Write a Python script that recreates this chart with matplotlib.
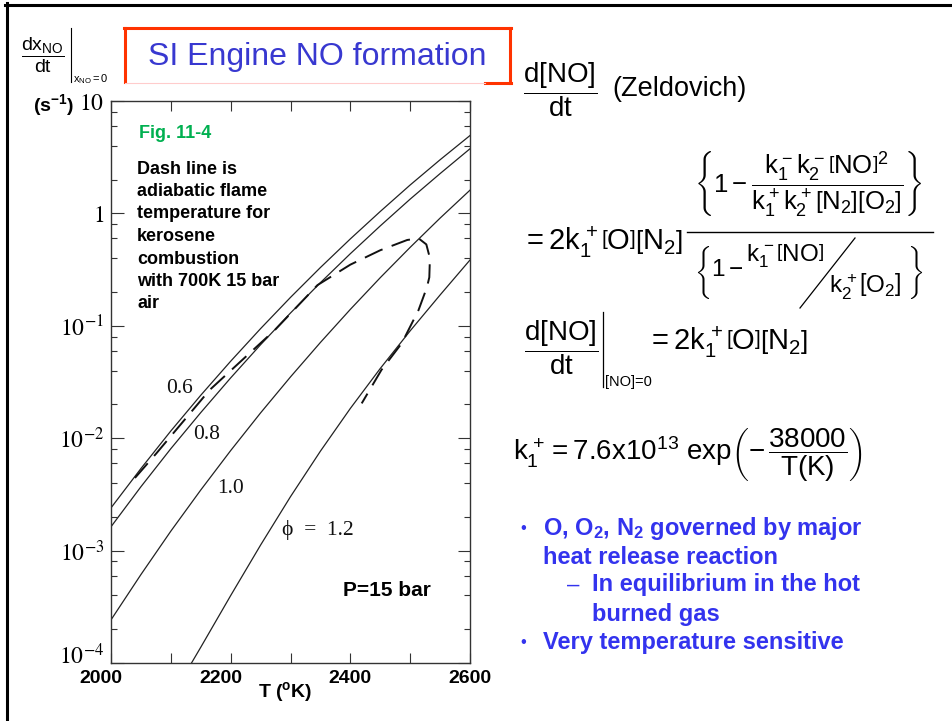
import matplotlib
matplotlib.use('Agg')
import matplotlib.pyplot as plt
import matplotlib.transforms as mtransforms
from matplotlib.lines import Line2D
from matplotlib.ticker import LogLocator, NullFormatter, FixedLocator

plt.rcParams['font.family'] = ['Liberation Sans', 'DejaVu Sans']
plt.rcParams['mathtext.fontset'] = 'custom'
plt.rcParams['mathtext.rm'] = 'Liberation Sans'
plt.rcParams['mathtext.it'] = 'Liberation Sans'
plt.rcParams['mathtext.bf'] = 'Liberation Sans:bold'

W, H = 953, 721

# Initial NO formation rate (1/s) vs burned gas temperature, P = 15 bar (read off Fig. 11-4)
temps = [2000, 2050, 2100, 2150, 2200, 2250, 2300, 2350, 2400, 2450, 2500, 2550, 2600]
rate_06 = [2.40e-3, 5.37e-3, 1.16e-2, 2.41e-2, 4.84e-2, 9.44e-2, 0.179, 0.330, 0.593, 1.04, 1.79, 3.00, 4.93]
rate_08 = [1.63e-3, 3.70e-3, 8.07e-3, 1.69e-2, 3.44e-2, 6.79e-2, 0.130, 0.242, 0.438, 0.774, 1.34, 2.26, 3.76]
rate_10 = [2.42e-4, 6.12e-4, 1.49e-3, 3.46e-3, 7.76e-3, 1.68e-2, 3.51e-2, 7.11e-2, 0.140, 0.268, 0.499, 0.908, 1.61]
temps_12 = [2130, 2150, 2200, 2250, 2300, 2350, 2400, 2450, 2500, 2550, 2600]
rate_12 = [9.1e-5, 1.38e-4, 3.98e-4, 1.12e-3, 3.02e-3, 7.67e-3, 1.84e-2, 4.17e-2, 9.02e-2, 0.188, 0.385]

# adiabatic flame temperature locus (kerosene, 700 K, 15 bar air)
flame_T = [2040, 2076, 2165, 2275, 2345, 2400, 2450, 2495, 2514, 2527, 2533, 2532, 2528, 2514, 2486, 2452, 2419]
flame_rate = [4.43e-3, 7.35e-3, 0.0269, 0.093, 0.23, 0.35, 0.47, 0.58, 0.60, 0.53, 0.40, 0.27, 0.22,
              0.138, 0.070, 0.0405, 0.0204]

curve_labels = ['0.6', '0.8', '1.0', 'ϕ  =  1.2']
label_T = [2115, 2160, 2199, 2346]
label_rate = [0.0274, 0.0107, 3.6e-3, 1.52e-3]

x_ticks = [2000, 2200, 2400, 2600]
x_minor = [2100, 2300, 2500]
y_ticks = [1e-4, 1e-3, 1e-2, 1e-1, 1, 10]
y_labels = [r'$10^{-4}$', r'$10^{-3}$', r'$10^{-2}$', r'$10^{-1}$', r'$1$', r'$10$']


def fx(x):
    return x / W


def fy(y):
    return 1 - y / H


def hline(x0, y0, x1, y1, **kw):
    fig.add_artist(Line2D([fx(x0), fx(x1)], [fy(y0), fy(y1)], **kw))


fig = plt.figure(figsize=(W / 100, H / 100), dpi=100)
ax = fig.add_axes([fx(111), fy(663), (470 - 111) / W, (663 - 101) / H])

line_kw = dict(color='#222222', lw=0.9)
ax.plot(temps, rate_06, **line_kw)
ax.plot(temps, rate_08, **line_kw)
ax.plot(temps, rate_10, **line_kw)
ax.plot(temps_12, rate_12, **line_kw)
ax.plot(flame_T, flame_rate, color='#111111', lw=1.4, dashes=(10, 5))

ax.set_yscale('log')
ax.set_xlim(2000, 2600)
ax.set_ylim(1e-4, 10)

for lab, t, r in zip(curve_labels, label_T, label_rate):
    ax.text(t, r, lab, fontsize=15.5, family=['Liberation Serif', 'DejaVu Serif'],
            ha='center', va='center', color='#111111')

ax.set_xticks(x_ticks, labels=[str(v) for v in x_ticks], fontsize=14, fontweight='bold')
ax.xaxis.set_minor_locator(FixedLocator(x_minor))
ax.set_yticks(y_ticks, labels=y_labels, fontsize=17, math_fontfamily='stix')
ax.yaxis.set_minor_locator(LogLocator(subs=[2, 4, 6, 8]))
ax.yaxis.set_minor_formatter(NullFormatter())
ax.tick_params(which='both', direction='in', top=True, right=True, color='#333333', width=0.8)
ax.tick_params(axis='y', which='major', length=9, pad=5)
ax.tick_params(axis='y', which='minor', length=4)
ax.tick_params(axis='x', which='both', length=7, pad=5)
for sp in ax.spines.values():
    sp.set_linewidth(1.0)
    sp.set_color('#333333')

# label offsets as on the slide
shift = mtransforms.ScaledTranslation(-10 / 100, 0, fig.dpi_scale_trans)
for lbl in ax.get_xticklabels()[:2]:
    lbl.set_transform(lbl.get_transform() + shift)
up = mtransforms.ScaledTranslation(0, 9 / 100, fig.dpi_scale_trans)
lbl = ax.get_yticklabels()[0]
lbl.set_transform(lbl.get_transform() + up)

# axis titles
fig.text(fx(285), fy(692), r'T ($^\mathbf{o}$K)', fontsize=14, fontweight='bold', ha='center', va='center')
fig.text(fx(54), fy(105), r'(s$^\mathbf{-1}$)', fontsize=14, fontweight='bold', ha='center', va='center')
fig.text(fx(43), fy(55), r'$\dfrac{dx_{NO}}{dt}$', fontsize=14, ha='center', va='center')
hline(71, 28, 71, 82, color='black', lw=0.8)
fig.text(fx(73), fy(79), r'$x_{NO}=0$', fontsize=8, ha='left', va='center')

# annotations inside the plot
fig.text(fx(139), fy(133), 'Fig. 11-4', fontsize=13, fontweight='bold', color='#00B050',
         ha='left', va='center')
note = ['Dash line is', 'adiabatic flame', 'temperature for', 'kerosene', 'combustion',
        'with 700K 15 bar', 'air']
for i, s in enumerate(note):
    fig.text(fx(137), fy(173.5 + i * 22.5), s, fontsize=13, fontweight='bold', ha='left', va='baseline')
fig.text(fx(343), fy(591), 'P=15 bar', fontsize=15, fontweight='bold', ha='left', va='center')

# title box
red = '#FF3300'
for (x0, y0, x1, y1) in [(125, 28, 125, 82), (124, 28, 511, 28), (510, 28, 510, 83), (485, 83, 511, 83)]:
    hline(x0, y0, x1, y1, color=red, lw=2.2)
hline(125, 83, 485, 83, color='#FFCCCC', lw=0.8)
fig.text(fx(317), fy(57), 'SI Engine NO formation', fontsize=23, color='#3838D0', ha='center', va='center')

# slide frame
hline(5, 4.5, 953, 4.5, color='black', lw=2.2)
hline(6.5, 3, 6.5, 721, color='black', lw=2.2)

# Zeldovich rate expressions
fig.text(fx(560), fy(90), r'$\dfrac{d[NO]}{dt}$', fontsize=20, ha='center', va='center')
fig.text(fx(612), fy(89), '(Zeldovich)', fontsize=19.5, ha='left', va='center')

fig.text(fx(522), fy(242), r'$=2k_1^+\left[O\right]\left[N_2\right]$', fontsize=21, ha='left', va='center')
hline(687, 232, 933, 232, color='black', lw=1.0)
fig.text(fx(808), fy(184),
         r'$\left\{1-\dfrac{k_1^-k_2^-\left[NO\right]^2}{k_1^+k_2^+\left[N_2\right]\left[O_2\right]}\right\}$',
         fontsize=18.5, ha='center', va='center')
fig.text(fx(809), fy(272),
         r'$\left\{1-\genfrac{}{}{0}{0}{k_1^-\left[NO\right]\qquad\qquad}{\qquad\qquad k_2^+\left[O_2\right]}\right\}$',
         fontsize=17.5, ha='center', va='center')
hline(855, 238, 800, 308, color='black', lw=0.9)

fig.text(fx(561), fy(348), r'$\dfrac{d[NO]}{dt}$', fontsize=20, ha='center', va='center')
hline(603, 312, 603, 387, color='black', lw=0.9)
fig.text(fx(605), fy(382), '[NO]=0', fontsize=10.5, ha='left', va='center')
fig.text(fx(647), fy(342), r'$= 2k_1^+\left[O\right]\left[N_2\right]$', fontsize=21, ha='left', va='center')

fig.text(fx(513), fy(455), r'$k_1^+ = 7.6x10^{13}\ exp\left(-\,\dfrac{38000}{T(K)}\right)$',
         fontsize=20, ha='left', va='center')

# bullets
blue = '#3333EE'
bullets = [(523, 543, 528, '•', r'O, O$_\mathbf{2}$, N$_\mathbf{2}$ governed by major'),
           (None, 543, 557, None, 'heat release reaction'),
           (573, 592, 585, '–', 'In equilibrium in the hot'),
           (None, 592, 615, None, 'burned gas'),
           (523, 543, 643, '•', 'Very temperature sensitive')]
for bx, tx, ty, mark, s in bullets:
    if mark:
        fig.text(fx(bx), fy(ty), mark, fontsize=12 if mark == '•' else 16, color=blue,
                 ha='center', va='center')
    fig.text(fx(tx), fy(ty), s, fontsize=17, fontweight='bold', color=blue, ha='left', va='center')

fig.savefig('out.png', dpi=100, facecolor='white')
